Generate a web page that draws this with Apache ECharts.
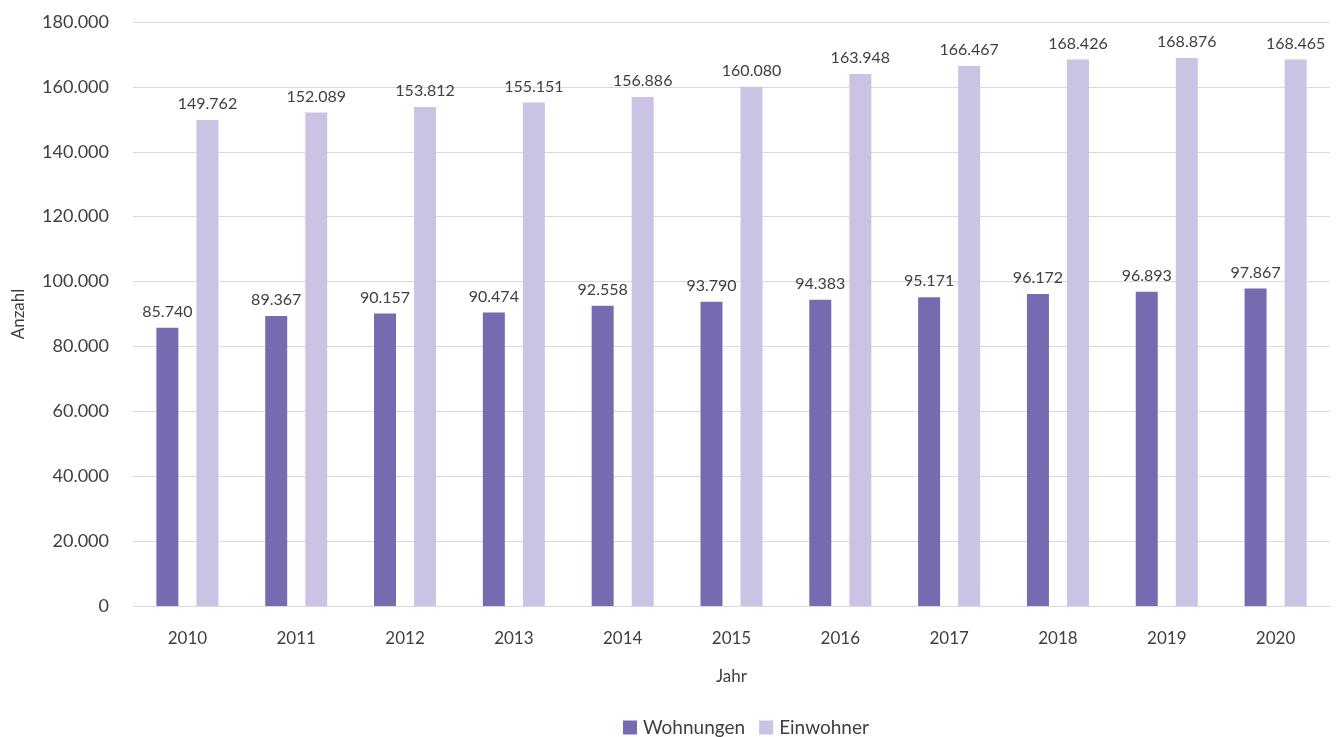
<!DOCTYPE html>
<html><head><meta charset="utf-8">
<script src="https://cdn.jsdelivr.net/npm/echarts@6/dist/echarts.min.js"></script>
<style>html,body{margin:0;padding:0;background:#fff}#c{width:1336px;height:737px}</style>
</head><body><div id="c"></div>
<script>
const years = ['2010','2011','2012','2013','2014','2015','2016','2017','2018','2019','2020'];
const wohnungen = [85740, 89367, 90157, 90474, 92558, 93790, 94383, 95171, 96172, 96893, 97867];
const einwohner = [149762, 152089, 153812, 155151, 156886, 160080, 163948, 166467, 168426, 168876, 168465];
const seriesNames = ['Wohnungen', 'Einwohner'];

const font = 'Lato, "Open Sans", sans-serif';
const fmt = v => {
  const s = Math.round(v).toString();
  return s.replace(/\B(?=(\d{3})+(?!\d))/g, '.');
};
const chart = echarts.init(document.getElementById('c'));
const label = {show: true, position: 'top', distance: 8, color: '#404040', fontSize: 16, fontFamily: font, formatter: p => fmt(p.value)};
chart.setOption({
  animation: false,
  textStyle: {fontFamily: font},
  grid: {left: 133, right: 6, top: 22, bottom: 131},
  legend: {left: 618, bottom: -5, itemWidth: 14, itemHeight: 14, itemGap: 14, icon: 'rect',
    textStyle: {fontSize: 19, color: '#404040', fontFamily: font, padding: [0, 0, 0, 1]}, data: seriesNames},
  xAxis: {type: 'category', data: years, name: 'Jahr', nameLocation: 'middle', nameGap: 62,
    nameTextStyle: {fontSize: 17, color: '#404040'},
    axisLine: {lineStyle: {color: '#d9d9d9'}}, axisTick: {show: false},
    axisLabel: {fontSize: 17, color: '#404040', margin: 24}},
  yAxis: {type: 'value', min: 0, max: 180000, interval: 20000, name: 'Anzahl', nameLocation: 'middle', nameGap: 106,
    nameTextStyle: {fontSize: 17, color: '#404040'},
    axisLabel: {fontSize: 18, color: '#404040', margin: 24, formatter: v => fmt(v)},
    splitLine: {lineStyle: {color: '#d9d9d9'}}, axisLine: {show: false}},
  series: [
    {name: seriesNames[0], type: 'bar', data: wohnungen, barWidth: 22, barGap: '82%', itemStyle: {color: '#766bb0'}, label},
    {name: seriesNames[1], type: 'bar', data: einwohner, barWidth: 22, itemStyle: {color: '#cbc3e3'}, label}
  ]
});
</script></body></html>
